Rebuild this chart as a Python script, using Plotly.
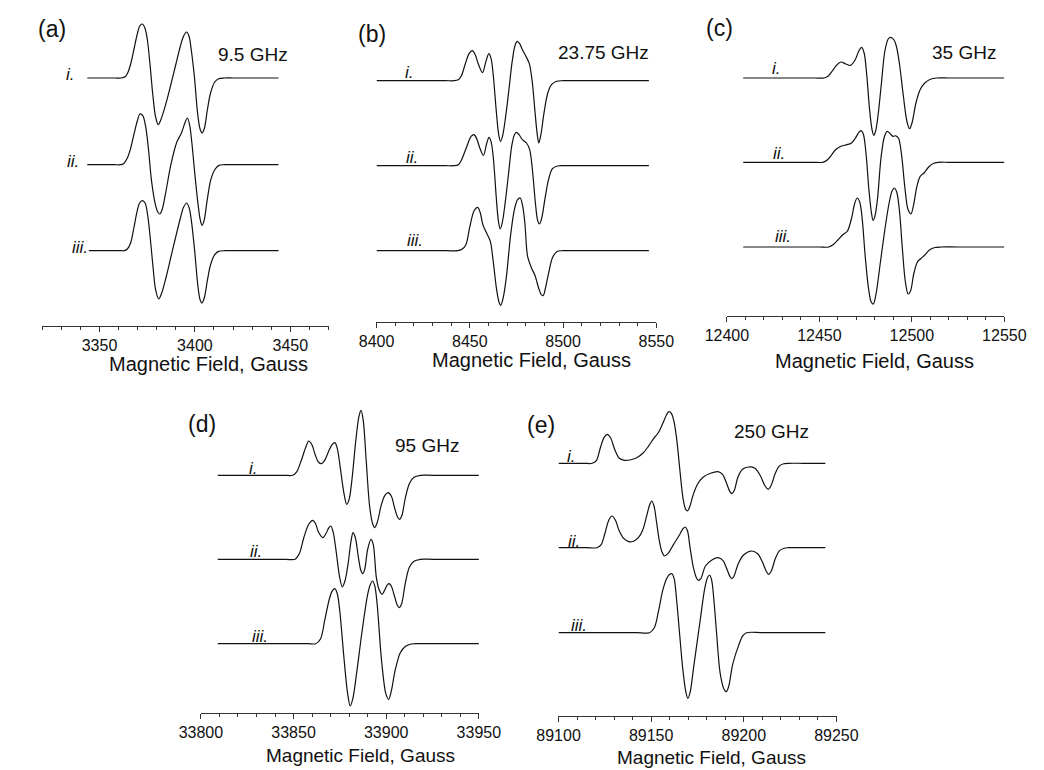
import plotly.graph_objects as go

# ---------------- data (field in Gauss, signal in arbitrary units) ----------------
# Panel (a) 9.5 GHz
A1_B = [3343.6, 3352, 3358, 3361.5, 3363.6, 3365.0, 3366.6, 3368.2, 3369.8, 3371.1, 3372.4, 3373.8, 3375.1, 3376.5,
        3378.0, 3379.4, 3380.8, 3382.3, 3384.6, 3387.2, 3389.8, 3392.4, 3394.1, 3395.6, 3396.9, 3398.1, 3399.8, 3401.4,
        3402.7, 3403.8, 3405.0, 3406.6, 3408.2, 3410.4, 3412.4, 3415.5, 3420, 3428, 3436, 3443.8]
A1_S = [0, 0, 0, 0, 1.5, 6, 16, 30, 44, 52, 54, 50, 38, 13,
        -18, -39, -46.7, -41, -27, -8, 12, 32, 42, 46, 42, 28, 0, -35,
        -51, -55, -50, -31, -15, -4, -0.7, 0, 0, 0, 0, 0]
A2_B = [3343.6, 3352, 3358, 3361, 3362.6, 3364.6, 3366.4, 3368.0, 3369.7, 3371.2, 3372.7, 3374.2, 3375.6, 3377.3,
        3379.3, 3380.6, 3381.6, 3382.8, 3384.5, 3387.4, 3390.4, 3393.0, 3394.8, 3396.1, 3397.2, 3398.4, 3400.0, 3401.8,
        3402.9, 3403.8, 3404.8, 3406.4, 3408.2, 3410.4, 3412.6, 3415.5, 3420, 3428, 3436, 3443.8]
A2_S = [0, 0, 0, 0, 1, 6.7, 17, 30, 43, 50.7, 49, 38, 16.7, -16.7,
        -40, -47.5, -49.3, -45, -30, 0, 22, 32, 42, 46.7, 40, 22, -10, -42,
        -56, -60.7, -56, -36, -16, -5, -0.7, 0, 0, 0, 0, 0]
A3_B = [3344.4, 3352, 3358, 3361.5, 3362.9, 3364.6, 3366.3, 3368.0, 3369.7, 3371.0, 3372.5, 3373.9, 3375.2, 3376.6,
        3378.1, 3379.4, 3381.0, 3382.6, 3384.8, 3387.3, 3389.8, 3392.4, 3394.0, 3395.7, 3397.0, 3398.2, 3399.9, 3401.5,
        3402.7, 3403.7, 3404.9, 3406.6, 3408.2, 3410.4, 3412.4, 3415.8, 3420, 3428, 3436, 3443.8]
A3_S = [0, 0, 0, 0, 0, 1.7, 7.7, 22.7, 39.3, 47.7, 50, 47.7, 36, 12.7,
        -17.3, -39, -48.3, -42.3, -27.3, -7.3, 12.7, 32.7, 43.3, 47.7, 42.7, 29.3, -0.7, -34,
        -49, -52.3, -47.3, -29, -14, -4, -0.7, 0, 0, 0, 0, 0]

# Panel (b) 23.75 GHz
B1_B = [8400, 8415, 8428, 8437, 8441.5, 8443.8, 8445.5, 8447.6, 8449.6, 8451.3, 8452.9, 8454.5, 8456.8, 8458.6,
        8460.2, 8461.4, 8462.6, 8464.2, 8465.5, 8466.5, 8467.6, 8469.2, 8470.9, 8472.7, 8474.2, 8475.4, 8476.7, 8478.2,
        8480.2, 8481.9, 8483.4, 8484.9, 8486.1, 8487.0, 8488.1, 8489.8, 8491.7, 8493.8, 8496.5, 8500, 8510, 8525, 8546]
B1_S = [0, 0, 0, 0, 0, 1, 5, 17, 27, 30, 26, 17, 8, 19,
        27, 22, 5, -30.7, -54, -60.7, -55, -36, -10, 19, 35, 39.3, 37, 31,
        24, 17, 0, -30, -53, -62.3, -54, -32, -13, -4, -0.5, 0, 0, 0, 0]
B2_B = [8400, 8415, 8428, 8437, 8441.5, 8443.8, 8445.6, 8448.4, 8450.6, 8452.2, 8453.7, 8455.3, 8457.3, 8459.0,
        8460.3, 8461.4, 8462.6, 8464.2, 8465.3, 8466.3, 8467.4, 8468.9, 8470.7, 8472.5, 8473.9, 8475.0, 8476.4, 8478.2,
        8480.4, 8482.1, 8483.6, 8485.2, 8486.4, 8487.4, 8488.6, 8490.3, 8492.2, 8494.3, 8497.0, 8500, 8510, 8525, 8546]
B2_S = [0, 0, 0, 0, 0, 1, 6, 19.3, 29, 31, 27, 18, 10.3, 22,
        28.3, 24, 8, -32.3, -55, -63.3, -57, -38, -9, 20, 31, 33.3, 31, 26,
        22.7, 16, -5, -38, -55, -58.3, -52, -33, -14, -3, -0.3, 0, 0, 0, 0]
B3_B = [8400, 8415, 8428, 8438, 8443.5, 8445.8, 8447.9, 8450.0, 8452.3, 8454.2, 8455.6, 8457.0, 8459.0, 8461.0,
        8462.5, 8464.3, 8465.6, 8466.6, 8467.8, 8469.5, 8471.9, 8474.0, 8475.6, 8477.0, 8478.3, 8479.5, 8481.0, 8483.0,
        8485.0, 8487.0, 8488.4, 8489.4, 8490.6, 8492.3, 8494.3, 8496.8, 8500, 8510, 8525, 8546]
B3_S = [0, 0, 0, 0, 0, 1.5, 6, 24, 40, 43.3, 38, 26, 17.7, 9.3,
        -10, -38, -51, -54.7, -48, -28, 16, 42, 51, 52.7, 45, 28, -6, -17,
        -25, -38, -44.2, -44.7, -37, -22, -7, -0.7, 0, 0, 0, 0]

# Panel (c) 35 GHz
C1_B = [12408.8, 12425, 12440, 12448, 12452.5, 12454.8, 12457.0, 12459.4, 12461.7, 12464.3, 12466.9, 12469.3, 12471.3,
        12472.8, 12474.2, 12475.6, 12477.2, 12478.5, 12479.4, 12480.4, 12481.8, 12483.5, 12485.4, 12487.2, 12488.6,
        12490.2, 12491.6, 12493.3, 12495.4, 12497.4, 12498.8, 12500.2, 12502.2, 12504.4, 12507.0, 12510.0, 12513.4,
        12520, 12532, 12550]
C1_S = [0, 0, 0, 0, 0, 2, 7, 13, 16, 14, 12.7, 18, 27,
        30.7, 25, 3, -33, -52, -57.3, -53, -36, -6, 27, 39, 40.7,
        38.5, 32, 14, -18, -44, -50.7, -44, -25, -12, -5, -1.3, 0,
        0, 0, 0]
C2_B = [12408.8, 12425, 12440, 12447, 12451.8, 12454.4, 12456.8, 12459.0, 12461.7, 12464.5, 12467.2, 12469.5, 12471.3,
        12472.6, 12473.8, 12475.2, 12476.8, 12478.1, 12479.0, 12480.0, 12481.4, 12483.3, 12485.2, 12486.7, 12488.3,
        12489.8, 12491.3, 12492.8, 12494.4, 12496.2, 12497.9, 12499.5, 12501.0, 12502.6, 12504.5, 12506.6, 12509.2,
        12511.8, 12514, 12520, 12532, 12550]
C2_S = [0, 0, 0, 0, 0, 2.5, 8, 13, 16, 17.5, 19, 24.3, 30,
        31.7, 28, 9, -28, -50, -58, -54, -37, 4.3, 26, 31, 28.5,
        26, 26.5, 24, 8, -25, -47, -51.7, -42, -25, -14, -10.7, -4.5,
        -1, 0, 0, 0, 0]
C3_B = [12408.8, 12425, 12440, 12450, 12455.0, 12457.5, 12460.0, 12462.6, 12465.0, 12467.3, 12469.0, 12470.4, 12471.8,
        12473.2, 12474.8, 12476.6, 12478.0, 12479.2, 12480.8, 12483.0, 12485.6, 12487.8, 12489.3, 12490.5, 12491.8,
        12493.2, 12494.8, 12496.5, 12498.0, 12499.3, 12501.0, 12503.0, 12504.8, 12507.0, 12509.5, 12512.5, 12516,
        12525, 12550]
C3_S = [0, 0, 0, 0, 0, 2.5, 7, 12.3, 15.5, 28, 43, 49, 45,
        27, -10, -42, -55, -57, -45, -15, 20, 45, 56, 59, 55,
        38, 0, -35, -47, -44, -27, -15, -11.7, -8, -3, -0.5, 0,
        0, 0]

# Panel (d) 95 GHz
D1_B = [33809.1, 33825, 33838, 33845, 33849.5, 33851.7, 33854.2, 33856.6, 33858.2, 33859.8, 33861.8, 33863.5, 33865.1,
        33866.8, 33869.0, 33870.9, 33872.3, 33873.6, 33875.2, 33877.2, 33878.7, 33880.0, 33881.6, 33883.5, 33885.2,
        33886.4, 33887.6, 33889.2, 33891.0, 33892.6, 33893.8, 33895.2, 33897.3, 33899.3, 33901.1, 33902.8, 33904.6,
        33906.2, 33907.3, 33908.5, 33910.4, 33912.6, 33915.0, 33918.5, 33925, 33937, 33950]
D1_S = [0, 0, 0, 0, 0, 3.5, 15, 28, 34.3, 31, 20, 13, 11.7,
        15, 24.3, 31, 32.7, 27, 8, -18, -29, -24, -3, 33, 58,
        65, 55, 15, -30, -48, -52.3, -47, -30, -20, -17.3, -21, -33,
        -42, -44, -40, -22, -8, -2, 0, 0, 0, 0]
D2_B = [33809.1, 33825, 33838, 33846, 33850.8, 33853.2, 33855.6, 33858.2, 33860.3, 33861.8, 33863.5, 33865.8, 33867.6,
        33869.0, 33870.1, 33871.3, 33873.0, 33874.8, 33876.3, 33877.7, 33879.4, 33881.0, 33882.1, 33883.3, 33885.0,
        33886.3, 33887.3, 33888.4, 33890.0, 33891.8, 33893.0, 33894.7, 33896.3, 33897.8, 33899.4, 33900.6, 33901.6,
        33902.8, 33904.5, 33906.0, 33907.1, 33908.4, 33910.3, 33912.5, 33915.0, 33918.5, 33925, 33937, 33950]
D2_S = [0, 0, 0, 0, 0, 6, 22, 35, 39, 36, 27, 21.7, 26,
        31.5, 33.3, 28, 8, -17, -27.7, -22, -5, 18, 26.7, 22, 2,
        -11, -14.3, -10, 10, 20, 15, -18.3, -31, -35, -30, -25.5, -24.3,
        -27, -37, -46, -48.3, -44, -24, -8, -2, 0, 0, 0, 0]
D3_B = [33809.1, 33825, 33840, 33852, 33858, 33862.0, 33864.6, 33867.0, 33869.5, 33871.0, 33872.3, 33873.6, 33875.0,
        33877.0, 33879.2, 33880.6, 33882.0, 33884.0, 33887.0, 33890.0, 33891.4, 33892.6, 33893.8, 33895.1, 33897.4,
        33899.8, 33901.3, 33902.8, 33904.8, 33907.6, 33910.5, 33913.5, 33918, 33930, 33950]
D3_S = [0, 0, 0, 0, 0, 0, 5, 25, 46, 53, 55, 50, 32,
        -10, -50, -62.3, -55, -30, 12.7, 49.3, 59, 62.7, 58, 40, -15,
        -50, -55.7, -47, -27, -9, -2.5, -0.3, 0, 0, 0]

# Panel (e) 250 GHz
E1_B = [89100, 89108, 89114, 89118.1, 89120.5, 89122.5, 89124.6, 89126.4, 89128.2, 89130.3, 89132.8, 89135.5, 89138.5,
        89142.2, 89145.5, 89148.5, 89151.4, 89154.0, 89156.3, 89158.3, 89159.6, 89160.9, 89162.3, 89163.8, 89165.4,
        89167.2, 89168.6, 89169.7, 89170.9, 89172.6, 89175.0, 89178.0, 89182.0, 89186.0, 89188.5, 89190.7, 89192.4,
        89193.6, 89194.9, 89196.8, 89199.3, 89202.6, 89206.0, 89208.8, 89211.3, 89213.2, 89214.8, 89216.8, 89219.0,
        89221.5, 89224, 89232, 89244]
E1_S = [0, 0, 0, 0, 3, 15, 26, 29, 25, 14, 5, 3, 3.3,
        5.5, 10, 17, 25, 31, 40, 48.5, 51.7, 50, 42, 24, -5,
        -35, -46, -47.5, -43, -32, -21, -14, -10, -8.3, -11, -20, -28,
        -30.3, -27, -14, -6, -3.7, -5, -12, -22, -26, -22, -11, -3,
        -0.5, 0, 0, 0]
E2_B = [89100, 89108, 89115, 89120.7, 89123.0, 89125.0, 89127.0, 89128.8, 89130.6, 89132.8, 89135.3, 89137.9, 89140.5,
        89143.1, 89145.5, 89147.6, 89149.2, 89150.3, 89151.5, 89152.8, 89154.3, 89155.8, 89157.2, 89159.0, 89162.1,
        89165.0, 89167.2, 89168.4, 89169.6, 89171.0, 89172.8, 89174.4, 89175.5, 89176.8, 89179.3, 89183.0, 89186.2,
        89188.8, 89191.0, 89192.6, 89193.6, 89194.8, 89197.0, 89200.0, 89204.3, 89207.5, 89210.0, 89212.0, 89213.4,
        89214.9, 89217.0, 89219.3, 89221.8, 89224, 89232, 89244]
E2_S = [0, 0, 0, 0, 3, 14, 27, 31.7, 28, 16.7, 9, 6, 6.5,
        10, 18, 32, 43, 46.7, 42, 27, 8, -4, -8.3, -6, 3.3,
        12, 19, 20.7, 17, 0, -20, -30, -32.7, -31, -18.3, -12, -10,
        -13, -22, -29, -31, -28, -16, -7, -3.3, -6, -14, -23, -26.7,
        -23, -11, -3, -0.5, 0, 0, 0]
E3_B = [89100, 89115, 89130, 89142, 89149.1, 89151.7, 89154.0, 89156.2, 89158.3, 89160.0, 89161.2, 89162.4, 89163.8,
        89165.3, 89167.0, 89168.6, 89169.8, 89171.0, 89172.9, 89176.4, 89179.0, 89180.5, 89181.5, 89182.6, 89183.9,
        89185.3, 89187.2, 89189.2, 89190.5, 89191.8, 89194.0, 89197.4, 89199.5, 89201.5, 89210, 89225, 89244]
E3_S = [0, 0, 0, 0, 0, 5, 22, 42, 54, 58.5, 59, 54, 31.7,
        0, -35, -58, -65.7, -60, -35, 11.7, 45, 55.5, 57.7, 53, 31.7,
        0, -40, -56, -59, -54, -31.7, -11.7, -3, 0, 0, 0, 0]

PANEL_LETTERS = ["(a)", "(b)", "(c)", "(d)", "(e)"]
FREQ_LABELS = ["9.5 GHz", "23.75 GHz", "35 GHz", "95 GHz", "250 GHz"]
TRACE_LABELS = ["i.", "ii.", "iii."]
X_RANGES = [(3320, 3470), (8400, 8550), (12400, 12550), (33800, 33950), (89100, 89250)]
AXIS_TITLE = "Magnetic Field, Gauss"

PANEL_DATA = [
    [(A1_B, A1_S), (A2_B, A2_S), (A3_B, A3_S)],
    [(B1_B, B1_S), (B2_B, B2_S), (B3_B, B3_S)],
    [(C1_B, C1_S), (C2_B, C2_S), (C3_B, C3_S)],
    [(D1_B, D1_S), (D2_B, D2_S), (D3_B, D3_S)],
    [(E1_B, E1_S), (E2_B, E2_S), (E3_B, E3_S)],
]
for _panel in PANEL_DATA:
    for _b, _s in _panel:
        assert len(_b) == len(_s), (len(_b), len(_s), _b[0])

# vertical offsets of the stacked spectra (same units as signal)
OFFSETS = [[248, 161.3, 75.3], [241.3, 156.3, 71.3], [238, 153.7, 69], [237.7, 153.7, 69.3], [252.7, 168.3, 83.3]]

# ---------------- layout geometry (pixels) ----------------
W, H = 1044, 770
# (x_left, x_right, y_axis_line, y_top)
PANEL_BOX = [(12.7, 311.7, 318, 0), (361.7, 654.0, 314, 0), (727.5, 1017.3, 308, 0),
             (178.3, 468.7, 705, 386), (551.7, 842.0, 708, 386)]
LETTER_POS = [(23, 21), (357, 26), (720, 20), (180, 416), (534, 417)]
FREQ_POS = [(233, 46), (599, 44), (975, 45), (414, 437), (774, 423)]
TRACE_LABEL_POS = [[(42, 66), (45, 153), (52, 239)],
                   [(396, 64), (399, 149), (402, 232)],
                   [(779, 61), (782, 146), (786, 229)],
                   [(233, 460), (236, 543), (240, 628)],
                   [(565, 448), (568, 533), (573, 617)]]
TITLE_POS = [(186, 356), (524, 352), (882, 353), (345, 747), (712, 749)]
TITLE_SIZES = [20, 20, 20, 19, 19]

FONT = "Liberation Sans, Arial, Helvetica, sans-serif"


def px(x):
    return x / W


def py(y):
    return 1 - y / H


fig = go.Figure()
annotations = []
for k in range(5):
    xl, xr, yb, yt = PANEL_BOX[k]
    xa = "x" if k == 0 else f"x{k+1}"
    ya = "y" if k == 0 else f"y{k+1}"
    for j, (bf, sig) in enumerate(PANEL_DATA[k]):
        fig.add_trace(go.Scatter(
            x=bf, y=[OFFSETS[k][j] + s for s in sig], mode="lines",
            line=dict(color="#111111", width=1.2, shape="spline", smoothing=0.9),
            xaxis=xa, yaxis=ya, showlegend=False, hoverinfo="skip"))
    lo, hi = X_RANGES[k]
    axis_kw = dict(
        domain=[px(xl), px(xr)], range=[lo - 0.05, hi + 0.05], anchor=ya,
        showline=True, linecolor="#333333", linewidth=1.2, showgrid=False, zeroline=False,
        ticks="outside", ticklen=5, tickwidth=1.2, tickcolor="#333333",
        tick0=0, dtick=50, tickformat="d",
        tickfont=dict(family=FONT, size=16, color="#111111"),
        minor=dict(ticks="outside", ticklen=3, tickwidth=1, tickcolor="#333333", dtick=10, tick0=0, showgrid=False),
    )
    yaxis_kw = dict(domain=[py(yb), py(yt)], range=[0, yb - yt], visible=False, anchor=xa,
                    fixedrange=True)
    fig.update_layout(**{("xaxis" if k == 0 else f"xaxis{k+1}"): axis_kw,
                         ("yaxis" if k == 0 else f"yaxis{k+1}"): yaxis_kw})

    annotations.append(dict(text=PANEL_LETTERS[k], x=px(LETTER_POS[k][0]), y=py(LETTER_POS[k][1]),
                            xref="paper", yref="paper", showarrow=False, xanchor="center", yanchor="middle",
                            font=dict(family=FONT, size=23, color="#111111")))
    annotations.append(dict(text=FREQ_LABELS[k], x=px(FREQ_POS[k][0]), y=py(FREQ_POS[k][1]),
                            xref="paper", yref="paper", showarrow=False, xanchor="center", yanchor="middle",
                            font=dict(family=FONT, size=19, color="#111111")))
    annotations.append(dict(text=AXIS_TITLE, x=px(TITLE_POS[k][0]), y=py(TITLE_POS[k][1]),
                            xref="paper", yref="paper", showarrow=False, xanchor="center", yanchor="middle",
                            borderpad=0,
                            font=dict(family=FONT, size=TITLE_SIZES[k], color="#111111")))
    for j in range(3):
        annotations.append(dict(text="<i>" + TRACE_LABELS[j] + "</i>",
                                x=px(TRACE_LABEL_POS[k][j][0]), y=py(TRACE_LABEL_POS[k][j][1]),
                                xref="paper", yref="paper", showarrow=False, xanchor="center", yanchor="middle",
                                font=dict(family=FONT, size=17, color="#111111")))

fig.update_layout(width=W, height=H, autosize=False, margin=dict(l=0, r=0, t=0, b=0),
                  paper_bgcolor="white", plot_bgcolor="white", annotations=annotations)

fig.write_html("out.html")
